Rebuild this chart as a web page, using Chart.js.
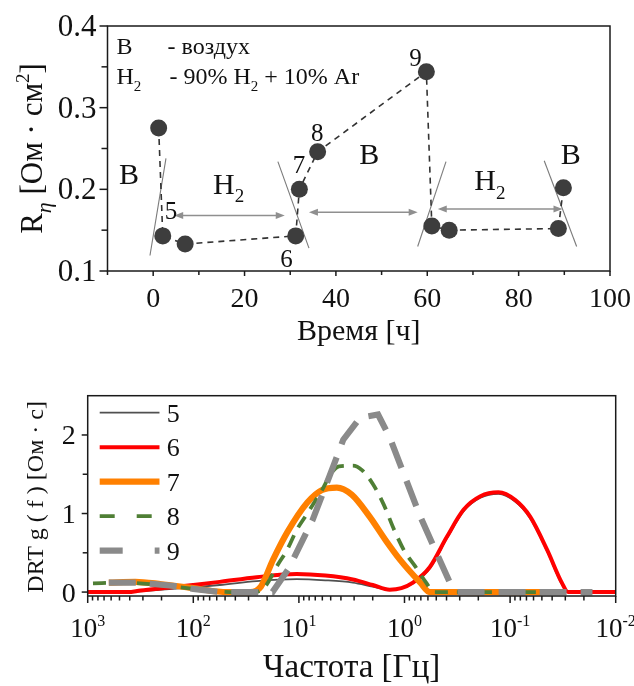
<!DOCTYPE html>
<html>
<head>
<meta charset="utf-8">
<title>R&eta; и DRT</title>
<script src="https://cdn.jsdelivr.net/npm/chart.js"></script>
<style>
  body { margin: 0; background: #fff; }
  .wrap { position: relative; width: 634px; height: 686px; }
  #timeChart { position: absolute; left: 0; top: 0; }
  #drtChart { position: absolute; left: 0; top: 360px; }
</style>
</head>
<body>
<div class="wrap">
  <canvas id="timeChart" width="634" height="360"></canvas>
  <canvas id="drtChart" width="634" height="326"></canvas>
</div>
<script>
// --- top chart: R_eta vs time ---
const timeHours = [1.2, 2.1, 7.0, 31.2, 32.0, 36.0, 59.8, 61.0, 64.8, 88.7, 89.8];
const resistance = [0.275, 0.143, 0.133, 0.143, 0.200, 0.246, 0.344, 0.155, 0.150, 0.152, 0.202];
const timeTicks = [0, 20, 40, 60, 80, 100];
const timeMinor = [-10, 10, 30, 50, 70, 90];
const resTicks = [0.1, 0.2, 0.3, 0.4];
const resMinor = [0.15, 0.25, 0.35];

// annotations (data units)
const phaseLines = [[-0.7, 0.119, 2.8, 0.238], [27.3, 0.234, 34.1, 0.128], [57.9, 0.13, 64.1, 0.234], [85.6, 0.235, 92.7, 0.13]];
const arrowSpans = [[4.6, 28.8, 0.168], [34.1, 57.9, 0.172], [62.3, 89.6, 0.176]];
const phaseNames = ['В', 'H2', 'В', 'H2', 'В'];
const phaseAt = [[-5.3, 0.219], [16.5, 0.207], [47.3, 0.243], [73.7, 0.211], [91.4, 0.243]];
const pointNames = ['5', '6', '7', '8', '9'];
const pointNameAt = [[3.9, 0.174], [29.2, 0.115], [31.9, 0.231], [35.9, 0.27], [57.4, 0.362]];

// --- bottom chart: DRT spectra ---
const seriesNames = ['5', '6', '7', '8', '9'];
const freq5 = [1000, 417, 316, 158, 100, 56.2, 25.1, 10.5, 5.62, 3.09, 2.0, 1.38, 1.07, 0.832, 0.575, 0.398, 0.275, 0.191, 0.129, 0.0891, 0.0646, 0.0447, 0.0324, 0.0282, 0.01];
const drt5 = [0, 0, 0.01, 0.04, 0.06, 0.09, 0.14, 0.165, 0.15, 0.12, 0.07, 0.03, 0.05, 0.11, 0.3, 0.68, 1.03, 1.2, 1.25, 1.15, 0.94, 0.52, 0.1, 0, 0];
const freq6 = [1000, 417, 316, 158, 100, 56.2, 25.1, 10.5, 5.62, 3.09, 2.0, 1.38, 1.07, 0.832, 0.575, 0.398, 0.275, 0.191, 0.129, 0.0891, 0.0646, 0.0447, 0.0324, 0.0282, 0.01];
const drt6 = [0, 0, 0.02, 0.06, 0.09, 0.13, 0.19, 0.23, 0.21, 0.16, 0.09, 0.03, 0.05, 0.12, 0.32, 0.7, 1.05, 1.22, 1.27, 1.17, 0.96, 0.54, 0.12, 0, 0];
const freq7 = [631, 355, 200, 100, 63.1, 50.1, 28.8, 22.9, 17.6, 12.9, 8.32, 6.03, 4.37, 3.16, 2.14, 1.51, 1.10, 0.708, 0.575, 0.0501];
const drt7 = [0.12, 0.13, 0.1, 0.05, 0.01, 0, 0, 0.07, 0.41, 0.76, 1.14, 1.3, 1.33, 1.24, 0.96, 0.66, 0.41, 0.12, 0, 0];
const freq8 = [891, 501, 251, 100, 63.1, 39.8, 26.3, 20.9, 15.8, 12.9, 10.5, 8.32, 7.08, 6.03, 5.01, 4.17, 3.09, 2.51, 2.0, 1.58, 1.26, 1, 0.794, 0.631, 0.525, 0.0339];
const drt8 = [0.11, 0.12, 0.1, 0.04, 0.01, 0, 0, 0.07, 0.35, 0.54, 0.79, 1.0, 1.15, 1.3, 1.5, 1.6, 1.61, 1.55, 1.38, 1.12, 0.8, 0.52, 0.33, 0.13, 0, 0];
const freq9 = [631, 316, 158, 100, 56.2, 17.8, 12.6, 7.41, 4.79, 3.80, 2.63, 1.78, 1.38, 0.708, 0.372, 0.316, 0.0166];
const drt9 = [0.12, 0.12, 0.08, 0.04, 0, 0, 0.29, 0.92, 1.58, 1.94, 2.22, 2.26, 1.97, 0.96, 0.12, 0, 0];
const freqTicks = [1000, 100, 10, 1, 0.1, 0.01];
const freqExp = ['3', '2', '1', '0', '-1', '-2'];
const drtTicks = [0, 1, 2];
const drtMinor = [0.5, 1.5];

const FONT = '"Liberation Serif", "Times New Roman", serif';

function fontOf(p, size) {
  return (p[3] ? 'italic ' : '') + Math.round(size * (p[1] || 1)) + 'px ' + FONT;
}
// parts: [text, sizeFactor, shiftFactor, italic]
function rich(ctx, parts, size, x, y, align) {
  let w = 0;
  parts.forEach(p => { ctx.font = fontOf(p, size); w += ctx.measureText(p[0]).width; });
  let cx = align === 'center' ? x - w / 2 : align === 'right' ? x - w : x;
  ctx.textAlign = 'left';
  ctx.textBaseline = 'alphabetic';
  parts.forEach(p => {
    ctx.font = fontOf(p, size);
    ctx.fillText(p[0], cx, y + (p[2] || 0) * size);
    cx += ctx.measureText(p[0]).width;
  });
}
function subParts(name) {
  return name === 'H2' ? [['H'], ['2', 0.62, 0.28]] : [[name]];
}
function seg(ctx, x1, y1, x2, y2) {
  ctx.beginPath(); ctx.moveTo(x1, y1); ctx.lineTo(x2, y2); ctx.stroke();
}
function drawFrame(ctx, a) {
  ctx.save();
  ctx.strokeStyle = '#1a1a1a';
  ctx.lineWidth = 1.5;
  ctx.strokeRect(a.left, a.top, a.right - a.left, a.bottom - a.top);
  ctx.restore();
}
function xMarks(ctx, s, a, vals, len) {
  vals.forEach(v => { const p = s.getPixelForValue(v); seg(ctx, p, a.bottom, p, a.bottom + len); });
}
function yMarks(ctx, s, a, vals, len) {
  vals.forEach(v => { const p = s.getPixelForValue(v); seg(ctx, a.left, p, a.left - len, p); });
}

const timeDecor = {
  id: 'timeDecor',
  beforeDatasetsDraw(chart) {
    const { ctx, scales: { x, y } } = chart;
    ctx.save();
    ctx.strokeStyle = '#7a7a7a';
    ctx.lineWidth = 1.1;
    phaseLines.forEach(l => seg(ctx, x.getPixelForValue(l[0]), y.getPixelForValue(l[1]), x.getPixelForValue(l[2]), y.getPixelForValue(l[3])));
    ctx.strokeStyle = '#8f8f8f';
    ctx.fillStyle = '#8f8f8f';
    ctx.lineWidth = 1.6;
    arrowSpans.forEach(s => {
      const x1 = x.getPixelForValue(s[0]), x2 = x.getPixelForValue(s[1]), py = y.getPixelForValue(s[2]);
      seg(ctx, x1 + 4, py, x2 - 4, py);
      [[x1, 1], [x2, -1]].forEach(([px, d]) => {
        ctx.beginPath();
        ctx.moveTo(px, py);
        ctx.lineTo(px + d * 9, py - 3.5);
        ctx.lineTo(px + d * 9, py + 3.5);
        ctx.closePath();
        ctx.fill();
      });
    });
    ctx.restore();
  },
  afterDraw(chart) {
    const { ctx, chartArea: a, scales: { x, y } } = chart;
    ctx.save();
    ctx.fillStyle = '#111';
    ctx.strokeStyle = '#1a1a1a';
    ctx.lineWidth = 1.5;
    drawFrame(ctx, a);
    xMarks(ctx, x, a, timeTicks, 5);
    xMarks(ctx, x, a, timeMinor, 4);
    yMarks(ctx, y, a, resTicks, 8);
    yMarks(ctx, y, a, resMinor, 6);
    timeTicks.forEach(v => rich(ctx, [[String(v)]], 28, x.getPixelForValue(v), a.bottom + 36, 'center'));
    resTicks.forEach(v => rich(ctx, [[v.toFixed(1)]], 31, a.left - 11, y.getPixelForValue(v) + 10, 'right'));
    rich(ctx, [['Время [ч]']], 30, (a.left + a.right) / 2, a.bottom + 69, 'center');
    ctx.save();
    ctx.translate(42, (a.top + a.bottom) / 2);
    ctx.rotate(-Math.PI / 2);
    rich(ctx, [['R'], ['η', 0.7, 0.28, true], [' [Ом · см'], ['2', 0.62, -0.42], [']']], 31, 0, 0, 'center');
    ctx.restore();
    // legend text
    rich(ctx, [['В']], 24, a.left + 9, a.top + 28, 'left');
    rich(ctx, [['- воздух']], 24, a.left + 60, a.top + 28, 'left');
    rich(ctx, subParts('H2'), 24, a.left + 9, a.top + 58, 'left');
    rich(ctx, [['- 90% H'], ['2', 0.62, 0.28], [' + 10% Ar']], 24, a.left + 62, a.top + 58, 'left');
    phaseNames.forEach((n, i) => rich(ctx, subParts(n), 30, x.getPixelForValue(phaseAt[i][0]), y.getPixelForValue(phaseAt[i][1]) + 10, 'center'));
    pointNames.forEach((n, i) => rich(ctx, [[n]], 25, x.getPixelForValue(pointNameAt[i][0]), y.getPixelForValue(pointNameAt[i][1]) + 8.5, 'center'));
    ctx.restore();
  }
};

new Chart(document.getElementById('timeChart'), {
  type: 'scatter',
  data: {
    datasets: [{
      data: timeHours.map((t, i) => ({ x: t, y: resistance[i] })),
      showLine: true,
      borderColor: '#333',
      borderWidth: 1.6,
      borderDash: [6, 5],
      pointRadius: 8.5,
      pointBackgroundColor: '#3d3d3d',
      pointBorderColor: '#3d3d3d',
      pointBorderWidth: 0
    }]
  },
  options: {
    responsive: false,
    animation: false,
    events: [],
    layout: { padding: { top: 26, right: 24, left: 0, bottom: 0 } },
    plugins: { legend: { display: false }, tooltip: { enabled: false } },
    scales: {
      x: {
        type: 'linear', min: -10, max: 100,
        grid: { display: false }, border: { display: false }, ticks: { display: false },
        afterFit(s) { s.height = 89; }
      },
      y: {
        type: 'linear', min: 0.1, max: 0.4,
        grid: { display: false }, border: { display: false }, ticks: { display: false },
        afterFit(s) { s.width = 107.5; }
      }
    }
  },
  plugins: [timeDecor]
});

const drtStyles = [
  { color: '#505050', width: 1.8, dash: [], smooth: true },
  { color: '#ff0000', width: 4, dash: [], smooth: true },
  { color: '#ff8000', width: 6.2, dash: [], smooth: true },
  { color: '#4f7f35', width: 3.8, dash: [13, 9], smooth: true },
  { color: '#8a8a8a', width: 6.2, dash: [27, 14], smooth: false }
];
const drtFreqs = [freq5, freq6, freq7, freq8, freq9];
const drtVals = [drt5, drt6, drt7, drt8, drt9];

const drtDecor = {
  id: 'drtDecor',
  afterDraw(chart) {
    const { ctx, chartArea: a, scales: { x, y } } = chart;
    ctx.save();
    ctx.fillStyle = '#111';
    ctx.strokeStyle = '#1a1a1a';
    ctx.lineWidth = 1.5;
    drawFrame(ctx, a);
    const minor = [];
    freqTicks.slice(1).forEach(d => { for (let m = 2; m <= 9; m++) minor.push(m * d); });
    xMarks(ctx, x, a, freqTicks, 7);
    xMarks(ctx, x, a, minor, 4.5);
    yMarks(ctx, y, a, drtTicks, 6);
    yMarks(ctx, y, a, drtMinor, 5);
    freqTicks.forEach((v, i) => rich(ctx, [['10'], [freqExp[i], 0.6, -0.42]], 27, x.getPixelForValue(v), a.bottom + 41, 'center'));
    drtTicks.forEach(v => rich(ctx, [[String(v)]], 28, a.left - 12, y.getPixelForValue(v) + 9.5, 'right'));
    rich(ctx, [['Частота [Гц]']], 33, (a.left + a.right) / 2, a.bottom + 81, 'center');
    ctx.save();
    ctx.translate(43, (a.top + a.bottom) / 2 + 1);
    ctx.rotate(-Math.PI / 2);
    rich(ctx, [['DRT g ( f ) [Ом · с]']], 24, 0, 0, 'center');
    ctx.restore();
    // legend
    chart.data.datasets.forEach((ds, i) => {
      const ly = a.top + 17 + i * 34.5;
      ctx.save();
      ctx.beginPath();
      ctx.rect(a.left + 10, ly - 6, 62, 12);
      ctx.clip();
      ctx.strokeStyle = ds.borderColor;
      ctx.lineWidth = ds.borderWidth;
      ctx.setLineDash(i === 3 ? [15, 22] : i === 4 ? [23, 32] : []);
      seg(ctx, a.left + 12, ly, a.left + 72, ly);
      ctx.restore();
      ctx.fillStyle = '#111';
      rich(ctx, [[ds.label]], 26, a.left + 79, ly + 9, 'left');
    });
    ctx.restore();
  }
};

new Chart(document.getElementById('drtChart'), {
  type: 'line',
  data: {
    datasets: seriesNames.map((n, i) => ({
      label: n,
      data: drtFreqs[i].map((f, j) => ({ x: f, y: drtVals[i][j] })),
      borderColor: drtStyles[i].color,
      borderWidth: drtStyles[i].width,
      borderDash: drtStyles[i].dash,
      cubicInterpolationMode: drtStyles[i].smooth ? 'monotone' : 'default',
      tension: 0,
      pointRadius: 0,
      fill: false,
      order: 5 - i
    }))
  },
  options: {
    responsive: false,
    animation: false,
    events: [],
    layout: { padding: { top: 35.7, right: 18.3, left: 0, bottom: 0 } },
    plugins: { legend: { display: false }, tooltip: { enabled: false } },
    scales: {
      x: {
        type: 'logarithmic', min: 0.01, max: 1000, reverse: true,
        grid: { display: false }, border: { display: false }, ticks: { display: false },
        afterFit(s) { s.height = 90; }
      },
      y: {
        type: 'linear', min: -0.05, max: 2.5,
        grid: { display: false }, border: { display: false }, ticks: { display: false },
        afterFit(s) { s.width = 87.7; }
      }
    }
  },
  plugins: [drtDecor]
});
</script>
</body>
</html>
